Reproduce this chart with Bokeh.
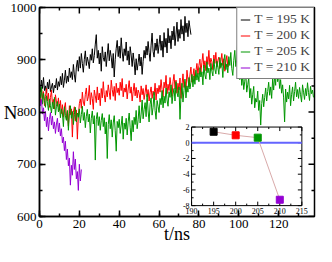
import numpy as np
from bokeh.plotting import figure
from bokeh.models import Range1d, SingleIntervalTicker
from bokeh.core.properties import value
from bokeh.embed import file_html
from bokeh.resources import INLINE

FONT = "Liberation Serif"
DT = 0.5  # sampling step of the time series (ns)

# ---- main series: N(t), sampled every DT ns ----
n195 = [
    852, 838, 861, 845, 866, 841, 850, 836, 857, 844, 862, 839, 848, 855, 837, 851, 846, 864, 842, 858,
    849, 868, 852, 874, 847, 861, 880, 855, 869, 858, 884, 866, 877, 862, 891, 871, 857, 886, 899, 878,
    906, 884, 912, 893, 876, 901, 917, 889, 905, 896, 883, 910, 899, 921, 894, 908, 930, 948, 903, 918,
    892, 913, 878, 925, 904, 897, 915, 887, 909, 931, 898, 918, 905, 884, 912, 867, 901, 922, 937, 906,
    926, 903, 942, 915, 897, 921, 908, 934, 899, 917, 890, 925, 909, 887, 913, 896, 871, 902, 880, 894,
    911, 888, 905, 872, 897, 918, 903, 926, 909, 935, 914, 897, 928, 951, 916, 905, 932, 918, 940, 912,
    929, 947, 918, 936, 905, 952, 924, 941, 913, 960, 932, 946, 921, 955, 938, 964, 927, 949, 972, 935,
    958, 941, 977, 949, 965, 936, 983, 952, 970, 944, 975, 961, 948,
]
n200 = [
    834, 818, 847, 826, 839, 812, 830, 845, 821, 836, 809, 828, 842, 815, 824, 806, 833, 819, 811, 827,
    803, 822, 797, 814, 790, 808, 818, 786, 801, 773, 812, 795, 806, 752, 799, 810, 783, 804, 748, 792,
    816, 825, 807, 838, 819, 812, 834, 846, 821, 829, 851, 814, 837, 826, 805, 842, 831, 818, 848, 823,
    836, 812, 845, 827, 858, 833, 819, 841, 829, 852, 838, 824, 861, 843, 830, 849, 822, 855, 837, 846,
    832, 857, 841, 864, 829, 846, 838, 853, 825, 844, 860, 836, 848, 821, 839, 855, 831, 847, 827, 842,
    836, 819, 850, 833, 845, 824, 838, 852, 829, 843, 821, 837, 848, 826, 840, 832, 855, 823, 846, 835,
    851, 838, 862, 843, 829, 857, 846, 870, 835, 853, 841, 866, 849, 830, 858, 872, 844, 861, 836, 855,
    842, 865, 826, 851, 873, 847, 858, 839, 880, 862, 848, 871, 886, 857, 869, 883, 861, 878, 893, 872,
    889, 901, 876, 895, 912, 884, 898, 879, 906, 891, 918, 887, 903, 896, 881, 909, 893, 914, 886, 899,
    905, 883, 897, 912, 889, 902, 878, 895, 908, 886, 899,
]
n205 = [
    842, 827, 848, 815, 836, 822, 809, 831, 817, 803, 825, 812, 798, 819, 806, 828, 794, 811, 820, 800,
    815, 789, 806, 798, 772, 810, 793, 784, 803, 765, 797, 812, 788, 801, 776, 795, 809, 781, 798, 790,
    806, 779, 795, 811, 784, 799, 770, 792, 805, 781, 796, 760, 788, 802, 777, 793, 708, 786, 799, 774,
    791, 765, 784, 797, 772, 789, 758, 781, 711, 776, 795, 768, 785, 752, 779, 793, 764, 725, 782, 770,
    786, 759, 775, 792, 748, 779, 767, 788, 756, 781, 798, 771, 745, 784, 762, 790, 776, 803, 768, 785,
    812, 779, 796, 823, 787, 805, 818, 791, 834, 802, 781, 815, 827, 794, 809, 838, 803, 786, 822, 811,
    799, 826, 814, 841, 808, 830, 817, 846, 823, 811, 839, 828, 852, 816, 834, 845, 821, 858, 837, 829,
    848, 786, 832, 855, 819, 841, 863, 827, 850, 838, 866, 844, 857, 872, 848, 869, 853, 880, 861, 874,
    858, 885, 867, 877, 852, 890, 871, 863, 896, 875, 884, 862, 893, 878, 869, 901, 882, 873, 897, 886,
    872, 904, 885, 894, 866, 898, 910, 881, 892, 875, 906, 889, 914, 883, 870, 899, 918, 887, 901, 940,
    878, 862, 886, 851, 870, 843, 859, 876, 838, 852, 866, 827, 845, 815, 834, 849, 808, 826, 819, 840,
    803, 822, 775, 816, 834, 810, 828, 846, 821, 839, 857, 832, 848, 826, 863, 842, 870, 851, 899, 858,
    873, 845, 862, 836, 852, 827, 781, 844, 819, 838, 825, 851, 812, 834, 848, 821, 839, 857, 829, 843,
    826, 847, 833, 819, 852, 838, 824, 845, 831, 856, 837, 822, 849, 835, 842, 828,
]
n210 = [
    831, 812, 824, 796, 808, 783, 801, 772, 790, 764, 786, 799, 775, 792, 768, 781, 759, 777, 788, 762,
    779, 754, 768, 741, 752, 726, 744, 709, 729, 697, 712, 660, 698, 679, 724, 690, 710, 672, 686, 650,
    700, 668, 690,
]
series_labels = ["T = 195 K", "T = 200 K", "T = 205 K", "T = 210 K"]
series_colors = ["#000000", "#ff0000", "#009600", "#9400d3"]

# main axes
x_lim = [0, 138]
y_lim = [600, 1000]
x_major = [0, 20, 40, 60, 80, 100, 120]
x_minor = [10, 30, 50, 70, 90, 110, 130]
y_major = [600, 700, 800, 900, 1000]
y_minor = [650, 750, 850, 950]

# ---- inset data ----
inset_T = [195, 200, 205, 210]
inset_val = [1.4, 0.95, 0.65, -7.25]
inset_xticks = [190, 195, 200, 205, 210, 215]
inset_xminor = [192.5, 197.5, 202.5, 207.5, 212.5]
inset_yticks = [-8, -6, -4, -2, 0, 2]
inset_yminor = [-7, -5, -3, -1, 1]

# inset placement as fractions of the main frame
FX0, FX1 = 0.553, 0.954
FY0, FY1 = 0.052, 0.428

p = figure(width=316, height=246, output_backend="svg", toolbar_location=None,
           x_range=Range1d(*x_lim), y_range=Range1d(*y_lim),
           min_border_left=29, min_border_right=2, min_border_top=7, min_border_bottom=26)
p.background_fill_color = "white"
p.border_fill_color = "white"
p.outline_line_color = "black"
p.outline_line_width = 1.5
p.xgrid.visible = False
p.ygrid.visible = False

p.xaxis.ticker = SingleIntervalTicker(interval=20, num_minor_ticks=2)
p.yaxis.ticker = SingleIntervalTicker(interval=100, num_minor_ticks=2)
for ax in p.axis:
    ax.major_tick_in = 6
    ax.major_tick_out = 0
    ax.minor_tick_in = 3
    ax.minor_tick_out = 0
    ax.axis_line_width = 1.5
    ax.major_tick_line_width = 1.5
    ax.minor_tick_line_width = 1.5
    ax.major_label_text_font = FONT
    ax.major_label_text_font_size = "13px"
    ax.major_label_text_color = "black"
    ax.major_label_standoff = 3
    ax.axis_label_text_font = FONT
    ax.axis_label_text_font_style = "normal"
    ax.axis_label_text_color = "black"
    ax.axis_label_text_font_size = "18px"
    ax.axis_label_text_line_height = 0.9

p.xaxis.axis_label = "t/ns"
p.xaxis.axis_label_standoff = -7
p.yaxis.axis_label = "N"
p.yaxis.axis_label_orientation = "horizontal"
p.yaxis.axis_label_standoff = -10
p.yaxis.axis_label_text_font_size = "19px"

for vals, lab, col in zip([n195, n200, n205, n210], series_labels, series_colors):
    t = np.arange(len(vals)) * DT
    p.line(t, vals, line_color=col, line_width=1, legend_label=lab)

# mirrored ticks on top and right edges of the main frame
mt = dict(line_color="black", line_width=1.5, length_units="screen")
p.ray(x=x_major, y=[y_lim[1]] * len(x_major), length=6, angle=-np.pi / 2, **mt)
p.ray(x=x_minor, y=[y_lim[1]] * len(x_minor), length=3, angle=-np.pi / 2, **mt)
p.ray(x=[x_lim[1]] * len(y_major), y=y_major, length=6, angle=np.pi, **mt)
p.ray(x=[x_lim[1]] * len(y_minor), y=y_minor, length=3, angle=np.pi, **mt)

# ---- inset via extra ranges ----
sx = (inset_xticks[-1] - inset_xticks[0]) / (FX1 - FX0)
x0 = inset_xticks[0] - FX0 * sx
sy = (inset_yticks[-1] - inset_yticks[0]) / (FY1 - FY0)
y0 = inset_yticks[0] - FY0 * sy
p.extra_x_ranges = {"ix": Range1d(x0, x0 + sx)}
p.extra_y_ranges = {"iy": Range1d(y0, y0 + sy)}
R = dict(x_range_name="ix", y_range_name="iy")
xl, xr = inset_xticks[0], inset_xticks[-1]
yb, yt = inset_yticks[0], inset_yticks[-1]

p.quad(left=[xl], right=[xr], bottom=[yb], top=[yt], fill_color="white",
       line_color="black", line_width=1, **R)
tick_c = dict(line_color="black", line_width=1, length_units="screen", **R)
p.ray(x=inset_xticks, y=[yb] * len(inset_xticks), length=4, angle=np.pi / 2, **tick_c)
p.ray(x=inset_xminor, y=[yb] * len(inset_xminor), length=2, angle=np.pi / 2, **tick_c)
p.ray(x=inset_xticks, y=[yt] * len(inset_xticks), length=4, angle=-np.pi / 2, **tick_c)
p.ray(x=inset_xminor, y=[yt] * len(inset_xminor), length=2, angle=-np.pi / 2, **tick_c)
p.ray(x=[xl] * len(inset_yticks), y=inset_yticks, length=4, angle=0, **tick_c)
p.ray(x=[xl] * len(inset_yminor), y=inset_yminor, length=2, angle=0, **tick_c)
p.ray(x=[xr] * len(inset_yticks), y=inset_yticks, length=4, angle=np.pi, **tick_c)
p.ray(x=[xr] * len(inset_yminor), y=inset_yminor, length=2, angle=np.pi, **tick_c)

p.text(x=inset_xticks, y=[yb] * len(inset_xticks), text=[str(v) for v in inset_xticks],
       text_font=value(FONT), text_font_size=value("8px"), text_align="center",
       text_baseline="top", y_offset=2, text_color="black", **R)
p.text(x=[xl] * len(inset_yticks), y=inset_yticks, text=[str(v) for v in inset_yticks],
       text_font=value(FONT), text_font_size=value("8px"), text_align="right",
       text_baseline="middle", x_offset=-2, text_color="black", **R)

p.line(x=[xl, xr], y=[0, 0], line_color="#6464ff", line_width=2, **R)
p.line(x=inset_T, y=inset_val, line_color="#d9aaaa", line_width=1, **R)
p.scatter(x=inset_T, y=inset_val, marker="square", size=7, fill_color=series_colors,
          line_color=series_colors, **R)

leg = p.legend[0]
leg.location = "top_right"
leg.margin = 0
leg.padding = 3
leg.spacing = -2
leg.border_line_color = "black"
leg.border_line_width = 1
leg.label_text_font = FONT
leg.label_text_font_size = "13.5px"
leg.label_height = 11
leg.glyph_height = 11
leg.glyph_width = 10
leg.label_standoff = 4
leg.background_fill_alpha = 1

open("out.html", "w").write(file_html(p, INLINE))
